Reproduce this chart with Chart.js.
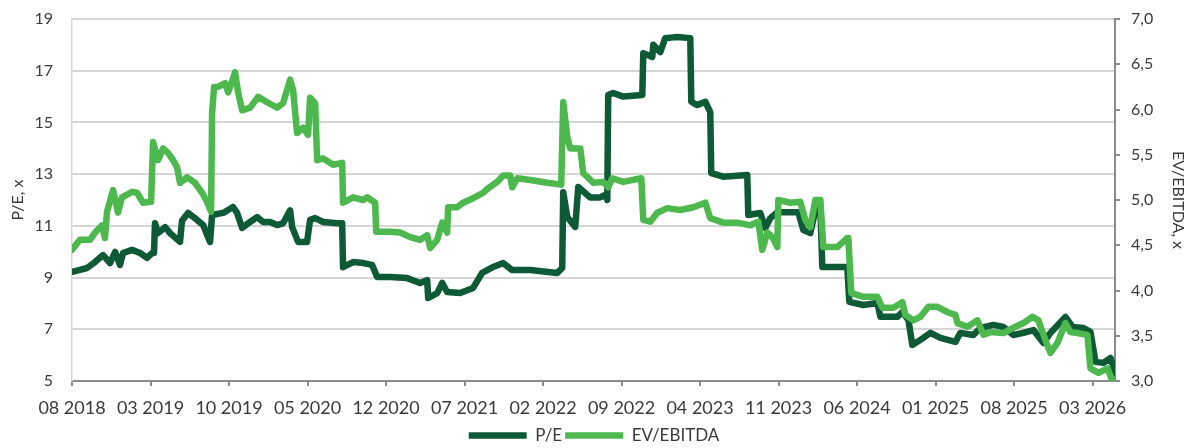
<!DOCTYPE html>
<html lang="en">
<head>
    <meta charset="UTF-8">
    <title>P/E and EV/EBITDA</title>
    <script src="https://cdn.jsdelivr.net/npm/chart.js"></script>
    <style>
        html, body {
            margin: 0;
            padding: 0;
            background: #fff;
        }

        .chart-container {
            width: 1188px;
            height: 448px;
        }
    </style>
</head>
<body>
    <div class="chart-container">
        <canvas id="valuationChart"></canvas>
    </div>

    <script>
        // x-axis tick labels, one every 7 months starting 08 2018
        const tickLabels = ['08 2018', '03 2019', '10 2019', '05 2020', '12 2020', '07 2021', '02 2022',
            '09 2022', '04 2023', '11 2023', '06 2024', '01 2025', '08 2025', '03 2026'];

        // P/E: months since 08 2018 and multiple (left axis)
        const peMonths = [0.1, 0.71, 1.34, 2.05, 2.77, 3.39, 3.84, 4.28, 4.55, 5.35, 6.07, 6.69, 7.14, 7.31, 7.4, 7.67,
            8.3, 8.74, 9.63, 9.81, 10.35, 11.15, 11.69, 12.31, 12.49, 13.47, 14.36, 14.72, 15.17, 15.88, 16.5, 17.04,
            17.66, 18.29, 18.82, 19.45, 19.63, 20.16, 20.96, 21.23, 21.68, 22.39, 23.64, 24.09, 24.17, 25.07, 25.96,
            26.76, 27.21, 28.37, 29.88, 31.04, 31.67, 31.76, 32.56, 33.01, 33.45, 34.61, 35.77, 36.57, 37.56, 38.45,
            39.25, 40.86, 43.27, 43.71, 43.8, 44.16, 44.87, 45.14, 46.21, 47.1, 47.55, 47.73, 47.81, 48.26, 49.15,
            50.85, 50.94, 51.74, 51.83, 52.45, 52.9, 53.97, 55.13, 55.22, 55.75, 56.47, 56.91, 57.0, 58.07, 60.21,
            60.3, 61.37, 61.82, 62.27, 62.89, 64.76, 65.21, 65.83, 66.46, 66.73, 66.9, 69.13, 69.31, 70.56, 71.81,
            72.08, 73.59, 74.04, 74.58, 74.93, 75.65, 76.54, 77.43, 78.77, 79.21, 80.37, 81.0, 82.16, 83.05, 83.94,
            84.83, 85.73, 86.62, 87.24, 88.58, 89.21, 90.19, 90.81, 91.26, 91.97, 92.6, 93.04];
        const peValues = [9.23, 9.3, 9.37, 9.6, 9.87, 9.56, 9.99, 9.49, 9.95, 10.07, 9.95, 9.76, 9.95, 9.95, 11.1, 10.72,
            10.95, 10.72, 10.38, 11.2, 11.5, 11.23, 11.03, 10.38, 11.42, 11.5, 11.73, 11.5, 10.92, 11.15, 11.34, 11.15,
            11.15, 11.03, 11.1, 11.6, 10.95, 10.38, 10.38, 11.23, 11.3, 11.15, 11.1, 11.1, 9.4, 9.6, 9.56,
            9.49, 9.02, 9.02, 8.98, 8.79, 8.9, 8.21, 8.4, 8.79, 8.44, 8.4, 8.6, 9.18, 9.41, 9.56,
            9.29, 9.29, 9.18, 9.37, 12.3, 11.34, 10.96, 12.5, 12.1, 12.1, 12.2, 12.0, 16.06, 16.14, 16.0,
            16.06, 17.68, 17.53, 18.0, 17.72, 18.26, 18.3, 18.26, 15.8, 15.67, 15.8, 15.4, 13.04, 12.9, 12.97,
            11.42, 11.5, 10.92, 11.3, 11.53, 11.53, 10.84, 10.72, 11.92, 11.73, 9.41, 9.41, 8.06, 7.94, 8.02,
            7.48, 7.48, 7.67, 7.36, 6.39, 6.59, 6.86, 6.67, 6.51, 6.86, 6.78, 7.05, 7.17, 7.09, 6.78,
            6.86, 6.97, 6.47, 6.86, 7.48, 7.09, 7.05, 6.9, 5.74, 5.7, 5.89, 5.3];

        // EV/EBITDA: months since 08 2018 and multiple (right axis)
        const evMonths = [0.0, 0.71, 1.61, 2.05, 2.68, 2.94, 3.12, 3.66, 4.1, 4.46, 5.35, 5.8, 6.33, 7.05, 7.23, 7.67,
            8.12, 8.56, 9.01, 9.37, 9.63, 10.26, 10.97, 11.6, 12.04, 12.4, 12.49, 12.67, 13.02, 13.65, 13.92, 14.54,
            14.81, 15.17, 15.88, 16.59, 17.4, 18.29, 18.82, 19.45, 19.71, 20.07, 20.61, 21.05, 21.23, 21.68, 21.86,
            22.39, 23.28, 24.09, 24.17, 25.07, 25.96, 26.32, 27.03, 27.12, 28.37, 29.26, 30.15, 31.04, 31.67, 31.94,
            32.56, 33.01, 33.45, 33.54, 34.34, 34.88, 35.77, 36.66, 37.11, 37.91, 38.45, 39.07, 39.25, 39.7, 40.86,
            42.37, 43.62, 43.8, 44.16, 44.42, 45.32, 45.58, 46.48, 47.37, 47.81, 48.17, 49.15, 50.76, 50.94, 51.56,
            52.19, 53.08, 54.24, 55.4, 56.47, 56.91, 58.07, 59.32, 60.48, 61.2, 61.55, 62.0, 62.44, 62.89, 62.98,
            64.05, 64.94, 65.39, 65.83, 66.28, 66.73, 66.99, 68.24, 69.13, 69.22, 69.49, 70.56, 71.81, 72.26, 73.24,
            74.04, 74.31, 75.02, 75.65, 76.36, 77.16, 78.06, 78.77, 78.95, 79.84, 80.73, 81.27, 81.89, 83.05, 84.12,
            84.83, 85.64, 86.17, 86.8, 87.24, 87.87, 88.58, 89.03, 89.65, 90.54, 90.81, 91.53, 92.33, 92.77, 93.04];
        const evValues = [4.45, 4.56, 4.56, 4.64, 4.72, 4.58, 4.87, 5.11, 4.86, 5.03, 5.09, 5.08, 4.97, 4.98, 5.64, 5.44,
            5.57, 5.52, 5.44, 5.36, 5.19, 5.25, 5.19, 5.08, 4.98, 4.87, 5.96, 6.25, 6.25, 6.29, 6.19, 6.41,
            6.19, 5.99, 6.02, 6.14, 6.08, 6.02, 6.07, 6.33, 6.22, 5.74, 5.8, 5.72, 6.13, 6.07, 5.44,
            5.46, 5.39, 5.41, 4.97, 5.03, 5.0, 5.03, 4.97, 4.65, 4.65, 4.64, 4.59, 4.56, 4.61, 4.47,
            4.56, 4.75, 4.64, 4.92, 4.92, 4.97, 5.02, 5.08, 5.13, 5.2, 5.27, 5.27, 5.14, 5.24, 5.22,
            5.19, 5.17, 6.08, 5.7, 5.57, 5.57, 5.3, 5.19, 5.2, 5.14, 5.24, 5.2, 5.24, 4.78, 4.76,
            4.86, 4.91, 4.89, 4.92, 4.97, 4.8, 4.75, 4.75, 4.72, 4.76, 4.45, 4.64, 4.59, 4.48, 5.0,
            4.97, 4.98, 4.78, 4.7, 5.0, 5.0, 4.48, 4.48, 4.58, 4.58, 3.97, 3.93, 3.93, 3.81, 3.81,
            3.87, 3.73, 3.67, 3.71, 3.82, 3.82, 3.76, 3.73, 3.64, 3.6, 3.67, 3.51, 3.54, 3.53, 3.6,
            3.64, 3.71, 3.67, 3.45, 3.31, 3.42, 3.64, 3.54, 3.53, 3.51, 3.14, 3.09, 3.14, 3.0, 2.98];

        const darkGreen = '#0e5a37';
        const lightGreen = '#4db84e';
        const textColor = '#3a3a3a';
        const fontFamily = 'Lato, "Open Sans", sans-serif';

        const ctx = document.getElementById('valuationChart').getContext('2d');

        new Chart(ctx, {
            type: 'line',
            data: {
                datasets: [{
                    label: 'P/E',
                    data: peMonths.map((m, i) => ({ x: m, y: peValues[i] })),
                    yAxisID: 'yPE',
                    borderColor: darkGreen,
                    backgroundColor: darkGreen,
                    borderWidth: 6.5,
                    borderCapStyle: 'round',
                    borderJoinStyle: 'round',
                    pointRadius: 0,
                    tension: 0,
                    order: 1
                }, {
                    label: 'EV/EBITDA',
                    data: evMonths.map((m, i) => ({ x: m, y: evValues[i] })),
                    yAxisID: 'yEV',
                    borderColor: lightGreen,
                    backgroundColor: lightGreen,
                    borderWidth: 6.5,
                    borderCapStyle: 'round',
                    borderJoinStyle: 'round',
                    pointRadius: 0,
                    tension: 0,
                    order: 0
                }]
            },
            options: {
                responsive: true,
                maintainAspectRatio: false,
                animation: false,
                layout: {
                    padding: 0
                },
                scales: {
                    x: {
                        type: 'linear',
                        min: 0,
                        max: 93,
                        afterFit: (scale) => { scale.height = 43; },
                        grid: {
                            drawOnChartArea: false,
                            drawTicks: true,
                            tickLength: 5,
                            color: '#8c8c8c',
                            lineWidth: 2
                        },
                        border: { color: '#8c8c8c', width: 2 },
                        ticks: {
                            stepSize: 7,
                            includeBounds: false,
                            autoSkip: false,
                            maxRotation: 0,
                            padding: 11,
                            color: textColor,
                            font: { family: fontFamily, size: 18 },
                            callback: (value) => tickLabels[Math.round(value / 7)] || ''
                        }
                    },
                    yPE: {
                        position: 'left',
                        min: 5,
                        max: 19,
                        afterFit: (scale) => { scale.width = 72; },
                        grid: {
                            color: '#d6d6d6',
                            lineWidth: 2,
                            drawTicks: true,
                            tickLength: 19,
                            tickColor: 'transparent'
                        },
                        border: { color: '#d6d6d6', width: 1.5 },
                        ticks: {
                            stepSize: 2,
                            padding: 0,
                            color: textColor,
                            font: { family: fontFamily, size: 16 }
                        },
                        title: {
                            display: true,
                            text: 'P/E, x',
                            color: textColor,
                            font: { family: fontFamily, size: 16 },
                            padding: { top: 8, bottom: 0 }
                        }
                    },
                    yEV: {
                        position: 'right',
                        min: 3,
                        max: 7,
                        afterFit: (scale) => { scale.width = 73; },
                        grid: {
                            drawOnChartArea: false,
                            drawTicks: true,
                            tickLength: 5,
                            color: '#8c8c8c',
                            lineWidth: 2
                        },
                        border: { color: '#8c8c8c', width: 2 },
                        ticks: {
                            stepSize: 0.5,
                            padding: 11,
                            color: textColor,
                            font: { family: fontFamily, size: 16, lineHeight: 1 },
                            callback: (value) => value.toFixed(1).replace('.', ',')
                        },
                        title: {
                            display: true,
                            text: 'EV/EBITDA, x',
                            color: textColor,
                            font: { family: fontFamily, size: 16 },
                            padding: { top: 0, bottom: 0 }
                        }
                    }
                },
                plugins: {
                    legend: {
                        position: 'bottom',
                        maxHeight: 24,
                        labels: {
                            usePointStyle: true,
                            pointStyle: 'line',
                            pointStyleWidth: 58,
                            padding: 3,
                            color: textColor,
                            font: { family: fontFamily, size: 17 },
                            sort: (a, b) => a.datasetIndex - b.datasetIndex
                        }
                    },
                    tooltip: { enabled: false }
                }
            }
        });
    </script>
</body>
</html>
